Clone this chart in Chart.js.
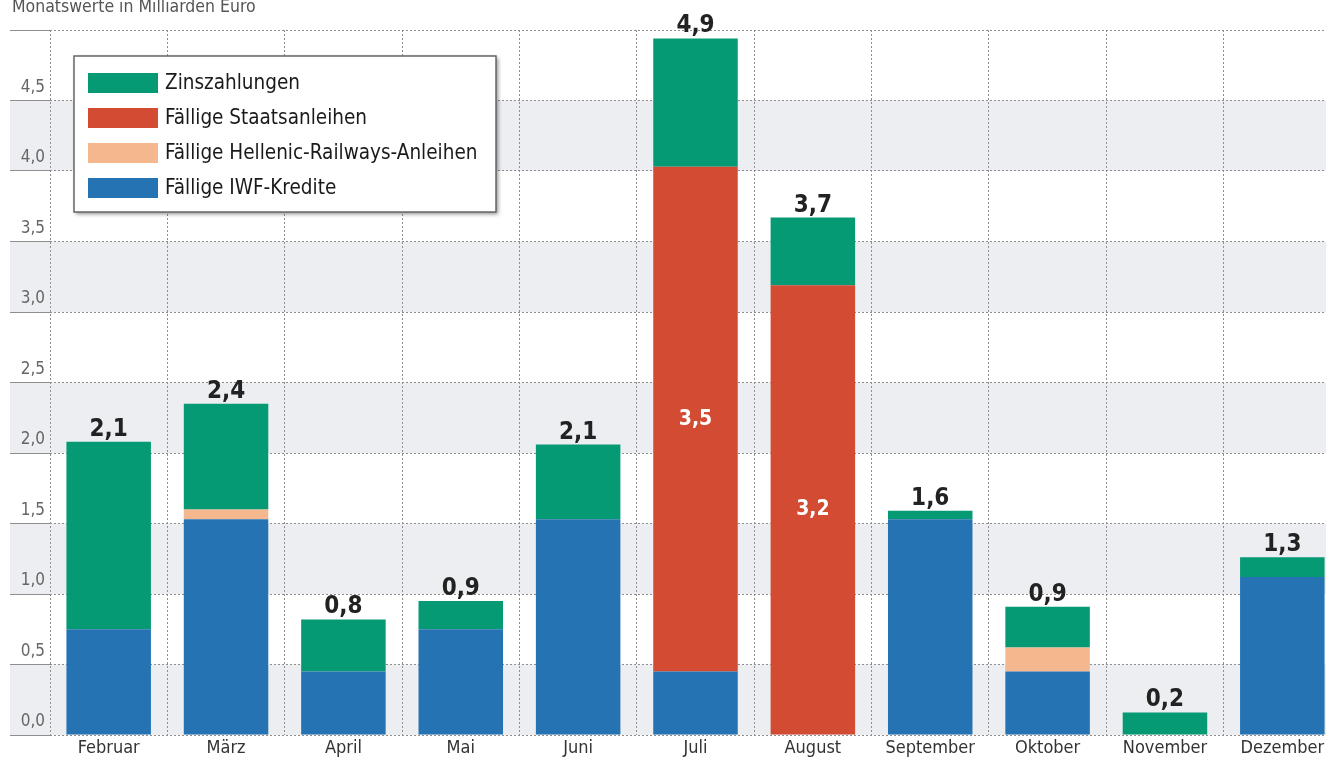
<!DOCTYPE html>
<html>
<head>
<meta charset="utf-8">
<script src="https://cdn.jsdelivr.net/npm/chart.js@4"></script>
<style>
  html, body { margin: 0; padding: 0; background: #fff; overflow: hidden; }
  #wrap { position: relative; width: 1326px; height: 765px; overflow: hidden; }
  #sub { position: absolute; left: 12px; top: -4px; font: 17.5px "DejaVu Sans Condensed", "Liberation Sans Narrow", sans-serif; color: #555; }
  canvas { position: absolute; left: 0; top: 0; }
</style>
</head>
<body>
<div id="wrap">
  <canvas id="chart" width="1341" height="765"></canvas>
  <div id="sub">Monatswerte in Milliarden Euro</div>
</div>
<script>
// Daten
const months = ["Februar", "März", "April", "Mai", "Juni", "Juli", "August", "September", "Oktober", "November", "Dezember"];
const iwf = [0.75, 1.53, 0.45, 0.75, 1.53, 0.45, 0, 1.53, 0.45, 0, 1.12];
const hellenic = [0, 0.07, 0, 0, 0, 0, 0, 0, 0.17, 0, 0];
const staats = [0, 0, 0, 0, 0, 3.58, 3.19, 0, 0, 0, 0];
const zins = [1.33, 0.75, 0.37, 0.2, 0.53, 0.91, 0.48, 0.06, 0.29, 0.16, 0.14];
const totals = [2.1, 2.4, 0.8, 0.9, 2.1, 4.9, 3.7, 1.6, 0.9, 0.2, 1.3];
const staatsLabels = [null, null, null, null, null, 3.5, 3.2, null, null, null, null];
const yTicks = [0, 0.5, 1, 1.5, 2, 2.5, 3, 3.5, 4, 4.5, 5];

const FONT = '"DejaVu Sans Condensed", "Liberation Sans Narrow", sans-serif';
const fmt = (v) => v.toFixed(1).replace(".", ",");

// graue Bänder hinter den Balken
const bandsPlugin = {
  id: "bands",
  beforeDraw(chart) {
    const { ctx, scales: { y }, chartArea } = chart;
    ctx.save();
    ctx.fillStyle = "#eceef2";
    for (let i = 0; i + 1 < yTicks.length; i += 2) {
      const top = y.getPixelForValue(yTicks[i + 1]);
      const bottom = y.getPixelForValue(yTicks[i]);
      ctx.fillRect(10, top, chartArea.right - 10, bottom - top);
    }
    ctx.restore();
  },
};

// Summen über den Balken + Werte in den roten Segmenten
const labelPlugin = {
  id: "barLabels",
  afterDatasetsDraw(chart) {
    const { ctx } = chart;
    const topMeta = chart.getDatasetMeta(3);
    const redMeta = chart.getDatasetMeta(2);
    ctx.save();
    ctx.textAlign = "center";
    ctx.textBaseline = "alphabetic";
    ctx.font = "bold 24px " + FONT;
    ctx.fillStyle = "#222";
    topMeta.data.forEach((bar, i) => {
      ctx.fillText(fmt(totals[i]), bar.x, bar.y - 6);
    });
    ctx.font = "bold 21px " + FONT;
    ctx.fillStyle = "#fff";
    ctx.textBaseline = "middle";
    redMeta.data.forEach((bar, i) => {
      if (staatsLabels[i] == null) return;
      ctx.fillText(fmt(staatsLabels[i]), bar.x, (bar.y + bar.base) / 2);
    });
    ctx.restore();
  },
};

// Legende im Kasten oben links
const legendPlugin = {
  id: "boxLegend",
  afterDraw(chart) {
    const { ctx } = chart;
    const items = chart.data.datasets.slice().reverse();
    ctx.save();
    ctx.shadowColor = "rgba(0,0,0,0.45)";
    ctx.shadowBlur = 4;
    ctx.shadowOffsetX = 2;
    ctx.shadowOffsetY = 2;
    ctx.fillStyle = "#fff";
    ctx.fillRect(74, 56, 422, 156);
    ctx.shadowColor = "transparent";
    ctx.strokeStyle = "#666";
    ctx.lineWidth = 1.5;
    ctx.strokeRect(74, 56, 422, 156);
    ctx.font = "20.5px " + FONT;
    ctx.textBaseline = "middle";
    items.forEach((ds, i) => {
      const cy = 83 + i * 35;
      ctx.fillStyle = ds.backgroundColor;
      ctx.fillRect(88, cy - 10, 70, 20);
      ctx.fillStyle = "#1a1a1a";
      ctx.fillText(ds.label, 165, cy + 1);
    });
    ctx.restore();
  },
};

const ctx = document.getElementById("chart").getContext("2d");
new Chart(ctx, {
  type: "bar",
  data: {
    labels: months,
    datasets: [
      { label: "Fällige IWF-Kredite", data: iwf, backgroundColor: "#2573b3" },
      { label: "Fällige Hellenic-Railways-Anleihen", data: hellenic, backgroundColor: "#f4b78e" },
      { label: "Fällige Staatsanleihen", data: staats, backgroundColor: "#d24b32" },
      { label: "Zinszahlungen", data: zins, backgroundColor: "#069a74" },
    ],
  },
  options: {
    responsive: false,
    animation: false,
    layout: { padding: { top: 30, right: 0, left: 0, bottom: 0 } },
    datasets: { bar: { categoryPercentage: 0.72, barPercentage: 1, borderWidth: 0 } },
    plugins: {
      legend: { display: false },
      tooltip: { enabled: false },
    },
    scales: {
      x: {
        stacked: true,
        grid: { color: "#8e8e8e", lineWidth: 1, drawTicks: false },
        border: { display: false, dash: [2, 2] },
        ticks: { color: "#333", font: { family: FONT, size: 18 }, padding: 3 },
        afterFit(scale) { scale.height = 30; },
      },
      y: {
        stacked: true,
        min: 0,
        max: 5,
        border: { display: false, dash: [2, 2] },
        grid: { color: "#8e8e8e", lineWidth: 1, tickLength: 40, drawTicks: true },
        ticks: {
          stepSize: 0.5,
          color: "#666",
          font: { family: FONT, size: 17 },
          padding: -35,
          labelOffset: -13,
          callback: (v) => (v >= 5 ? "" : fmt(v)),
        },
        afterFit(scale) { scale.width = 50; },
      },
    },
  },
  plugins: [bandsPlugin, labelPlugin, legendPlugin],
});
</script>
</body>
</html>
